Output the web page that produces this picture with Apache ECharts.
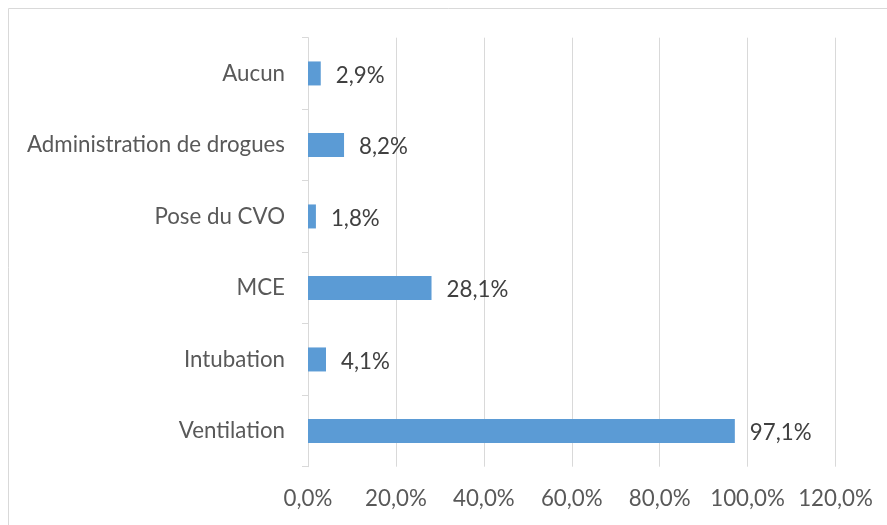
<!DOCTYPE html>
<html><head><meta charset="utf-8">
<script src="https://cdn.jsdelivr.net/npm/echarts@6/dist/echarts.min.js"></script>
<style>html,body{margin:0;padding:0;background:#fff}#c{width:887px;height:525px}</style>
</head><body><div id="c"></div>
<script>
const categories = ["Ventilation","Intubation","MCE","Pose du CVO","Administration de drogues","Aucun"];
const values = [97.1, 4.1, 28.1, 1.8, 8.2, 2.9];
const xTicks = [0,20,40,60,80,100,120];
const fmt = v => v.toFixed(1).replace('.', ',') + '%';
const chart = echarts.init(document.getElementById('c'), null, {renderer:'canvas'});
const font = 'Lato';
const fs = 22.3;
chart.setOption({
  animation:false,
  graphic:[{type:'rect', shape:{x:8.5,y:8.5,width:900,height:600}, style:{fill:'none', stroke:'#d9d9d9', lineWidth:1}}],
  grid:{left:308, right:51.5, top:37.7, bottom:58.3},
  xAxis:{type:'value', min:0, max:120, interval:20,
    axisLine:{show:false}, axisTick:{show:false},
    splitLine:{lineStyle:{color:'#d9d9d9', width:1}},
    axisLabel:{formatter:v=>fmt(v), color:'#595959', fontFamily:font, fontSize:fs, margin:21}},
  yAxis:{type:'category', data:categories,
    axisLine:{show:true, lineStyle:{color:'#d9d9d9'}},
    axisTick:{show:true, length:6, lineStyle:{color:'#d9d9d9'}},
    axisLabel:{color:'#595959', fontFamily:font, fontSize:fs, margin:23}},
  series:[{type:'bar', data:values, barWidth:24, itemStyle:{color:'#5b9bd5'},
    label:{show:true, position:'right', distance:15, offset:[0,2], formatter:p=>fmt(p.value), color:'#404040', fontFamily:font, fontSize:fs}}]
});
</script></body></html>
